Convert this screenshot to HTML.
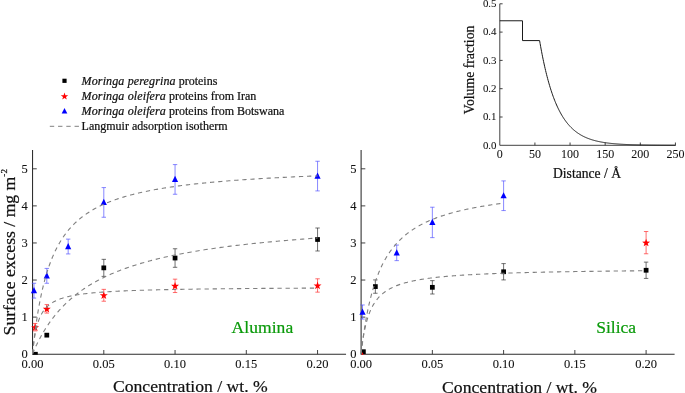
<!DOCTYPE html>
<html><head><meta charset="utf-8"><title>Surface excess</title>
<style>
html,body{margin:0;padding:0;background:#fff;}
body{width:685px;height:393px;overflow:hidden;}
svg{display:block;will-change:transform;}
text{font-family:"Liberation Serif","DejaVu Serif",serif;fill:#111;stroke:#111;stroke-width:0.22px;}
.tk{font-size:12.5px;stroke-width:0.08px;}
.ax{font-size:17.65px;}
.gr{font-size:17.5px;fill:#0a9a0a;stroke:#0a9a0a;}
.lg{font-size:12px;}
.it{font-size:10.9px;stroke-width:0.05px;}
.ix{font-size:12px;stroke-width:0.05px;}
.il{font-size:13.6px;}
</style></head><body>
<svg width="685" height="393" viewBox="0 0 685 393">
<rect width="685" height="393" fill="#fff"/>
<defs><clipPath id="cl"><rect x="32.55" y="140" width="320" height="214.65"/></clipPath><clipPath id="cr"><rect x="361.10" y="140" width="320" height="214.65"/></clipPath></defs>
<path d="M32.55 150V354.20H346.05" fill="none" stroke="#2c2c2c" stroke-width="1.05"/>
<path d="M32.55 317.12h4.2M32.55 280.04h4.2M32.55 242.96h4.2M32.55 205.88h4.2M32.55 168.80h4.2M103.80 354.20v-4.2M175.05 354.20v-4.2M246.30 354.20v-4.2M317.55 354.20v-4.2" fill="none" stroke="#2c2c2c" stroke-width="0.9"/>
<text x="27.85" y="358.10" text-anchor="end" class="tk">0</text>
<text x="27.85" y="321.02" text-anchor="end" class="tk">1</text>
<text x="27.85" y="283.94" text-anchor="end" class="tk">2</text>
<text x="27.85" y="246.86" text-anchor="end" class="tk">3</text>
<text x="27.85" y="209.78" text-anchor="end" class="tk">4</text>
<text x="27.85" y="172.70" text-anchor="end" class="tk">5</text>
<text x="32.55" y="367.6" text-anchor="middle" class="tk">0.00</text>
<text x="103.80" y="367.6" text-anchor="middle" class="tk">0.05</text>
<text x="175.05" y="367.6" text-anchor="middle" class="tk">0.10</text>
<text x="246.30" y="367.6" text-anchor="middle" class="tk">0.15</text>
<text x="317.55" y="367.6" text-anchor="middle" class="tk">0.20</text>
<path d="M103.80 259.33V276.39M101.60 259.33h4.4M101.60 276.39h4.4" fill="none" stroke="#333" stroke-width="0.7" opacity="1.0"/>
<path d="M175.05 248.76V267.30M172.85 248.76h4.4M172.85 267.30h4.4" fill="none" stroke="#333" stroke-width="0.7" opacity="1.0"/>
<path d="M317.55 228.00V250.99M315.35 228.00h4.4M315.35 250.99h4.4" fill="none" stroke="#333" stroke-width="0.7" opacity="1.0"/>
<path d="M35.11 323.48V330.90M32.91 323.48h4.4M32.91 330.90h4.4" fill="none" stroke="#ff3030" stroke-width="0.7" opacity="1.0"/>
<path d="M46.80 304.57V313.10M44.60 304.57h4.4M44.60 313.10h4.4" fill="none" stroke="#ff3030" stroke-width="0.7" opacity="1.0"/>
<path d="M103.80 289.37V301.23M101.60 289.37h4.4M101.60 301.23h4.4" fill="none" stroke="#ff3030" stroke-width="0.7" opacity="1.0"/>
<path d="M175.05 279.17V292.52M172.85 279.17h4.4M172.85 292.52h4.4" fill="none" stroke="#ff3030" stroke-width="0.7" opacity="1.0"/>
<path d="M317.55 278.80V292.15M315.35 278.80h4.4M315.35 292.15h4.4" fill="none" stroke="#ff3030" stroke-width="0.7" opacity="1.0"/>
<path d="M33.97 283.25V298.08M31.77 283.25h4.4M31.77 298.08h4.4" fill="none" stroke="#5555ff" stroke-width="0.7" opacity="1.0"/>
<path d="M46.80 268.42V283.25M44.60 268.42h4.4M44.60 283.25h4.4" fill="none" stroke="#5555ff" stroke-width="0.7" opacity="1.0"/>
<path d="M68.17 239.12V253.95M65.97 239.12h4.4M65.97 253.95h4.4" fill="none" stroke="#5555ff" stroke-width="0.7" opacity="1.0"/>
<path d="M103.80 187.58V217.25M101.60 187.58h4.4M101.60 217.25h4.4" fill="none" stroke="#5555ff" stroke-width="0.7" opacity="1.0"/>
<path d="M175.05 164.59V194.26M172.85 164.59h4.4M172.85 194.26h4.4" fill="none" stroke="#5555ff" stroke-width="0.7" opacity="1.0"/>
<path d="M317.55 161.25V190.92M315.35 161.25h4.4M315.35 190.92h4.4" fill="none" stroke="#5555ff" stroke-width="0.7" opacity="1.0"/>
<rect x="33.02" y="351.88" width="4.75" height="4.75" fill="#000" clip-path="url(#cl)"/>
<rect x="44.42" y="332.78" width="4.75" height="4.75" fill="#000" clip-path="url(#cl)"/>
<rect x="101.42" y="265.48" width="4.75" height="4.75" fill="#000" clip-path="url(#cl)"/>
<rect x="172.68" y="255.66" width="4.75" height="4.75" fill="#000" clip-path="url(#cl)"/>
<rect x="315.18" y="237.12" width="4.75" height="4.75" fill="#000" clip-path="url(#cl)"/>
<path d="M35.11 323.29 L36.10 326.13 L39.11 326.19 L36.71 328.01 L37.58 330.89 L35.11 329.17 L32.65 330.89 L33.52 328.01 L31.12 326.19 L34.13 326.13Z" fill="#ff0000"/>
<path d="M46.80 304.93 L47.79 307.77 L50.79 307.84 L48.40 309.65 L49.27 312.53 L46.80 310.81 L44.33 312.53 L45.20 309.65 L42.81 307.84 L45.81 307.77Z" fill="#ff0000"/>
<path d="M103.80 291.40 L104.79 294.24 L107.79 294.30 L105.40 296.12 L106.27 299.00 L103.80 297.28 L101.33 299.00 L102.20 296.12 L99.81 294.30 L102.81 294.24Z" fill="#ff0000"/>
<path d="M175.05 281.94 L176.04 284.78 L179.04 284.85 L176.65 286.66 L177.52 289.54 L175.05 287.82 L172.58 289.54 L173.45 286.66 L171.06 284.85 L174.06 284.78Z" fill="#ff0000"/>
<path d="M317.55 281.57 L318.54 284.41 L321.54 284.47 L319.15 286.29 L320.02 289.17 L317.55 287.45 L315.08 289.17 L315.95 286.29 L313.56 284.47 L316.56 284.41Z" fill="#ff0000"/>
<path d="M33.97 287.07L37.07 293.27H30.87Z" fill="#0000ff"/>
<path d="M46.80 272.24L49.90 278.44H43.70Z" fill="#0000ff"/>
<path d="M68.17 242.94L71.27 249.14H65.08Z" fill="#0000ff"/>
<path d="M103.80 198.82L106.90 205.02H100.70Z" fill="#0000ff"/>
<path d="M175.05 175.83L178.15 182.03H171.95Z" fill="#0000ff"/>
<path d="M317.55 172.49L320.65 178.69H314.45Z" fill="#0000ff"/>
<path d="M32.55 353.70 L32.55 353.67 L32.56 353.58 L32.58 353.42 L32.60 353.20 L32.63 352.92 L32.66 352.58 L32.71 352.18 L32.75 351.72 L32.81 351.20 L32.87 350.63 L32.93 350.00 L33.01 349.31 L33.09 348.57 L33.17 347.77 L33.26 346.93 L33.36 346.03 L33.47 345.09 L33.58 344.10 L33.69 343.06 L33.82 341.98 L33.95 340.86 L34.08 339.70 L34.23 338.51 L34.37 337.27 L34.53 336.01 L34.69 334.71 L34.86 333.38 L35.03 332.02 L35.21 330.63 L35.40 329.22 L35.59 327.79 L35.79 326.34 L36.00 324.87 L36.21 323.37 L36.43 321.87 L36.65 320.35 L36.89 318.81 L37.12 317.27 L37.37 315.72 L37.62 314.15 L37.87 312.59 L38.14 311.01 L38.41 309.43 L38.68 307.85 L38.96 306.27 L39.25 304.69 L39.55 303.11 L39.85 301.53 L40.15 299.96 L40.47 298.39 L40.79 296.82 L41.11 295.27 L41.45 293.71 L41.78 292.17 L42.13 290.63 L42.48 289.11 L42.84 287.59 L43.20 286.08 L43.57 284.59 L43.95 283.10 L44.33 281.63 L44.72 280.17 L45.12 278.72 L45.52 277.29 L45.93 275.87 L46.34 274.46 L46.77 273.07 L47.19 271.70 L47.63 270.33 L48.07 268.98 L48.51 267.65 L48.97 266.33 L49.43 265.03 L49.89 263.75 L50.36 262.47 L50.84 261.22 L51.33 259.98 L51.82 258.75 L52.31 257.54 L52.82 256.35 L53.33 255.17 L53.84 254.01 L54.37 252.86 L54.89 251.73 L55.43 250.61 L55.97 249.51 L56.52 248.43 L57.07 247.36 L57.63 246.30 L58.20 245.26 L58.77 244.24 L59.35 243.22 L59.94 242.23 L60.53 241.24 L61.13 240.28 L61.73 239.32 L62.35 238.38 L62.96 237.45 L63.59 236.54 L64.22 235.64 L64.85 234.76 L65.50 233.88 L66.15 233.02 L66.80 232.18 L67.46 231.34 L68.13 230.52 L68.81 229.71 L69.49 228.91 L70.17 228.12 L70.87 227.35 L71.57 226.59 L72.27 225.84 L72.99 225.10 L73.70 224.37 L74.43 223.65 L75.16 222.94 L75.90 222.25 L76.64 221.56 L77.39 220.88 L78.15 220.22 L78.91 219.56 L79.68 218.92 L80.46 218.28 L81.24 217.66 L82.03 217.04 L82.82 216.43 L83.63 215.83 L84.43 215.24 L85.25 214.66 L86.07 214.09 L86.89 213.52 L87.73 212.97 L88.57 212.42 L89.41 211.88 L90.26 211.35 L91.12 210.82 L91.99 210.31 L92.86 209.80 L93.73 209.30 L94.62 208.81 L95.51 208.32 L96.40 207.84 L97.31 207.37 L98.21 206.90 L99.13 206.44 L100.05 205.99 L100.98 205.54 L101.91 205.10 L102.85 204.67 L103.80 204.24 L104.75 203.82 L105.71 203.41 L106.68 203.00 L107.65 202.60 L108.63 202.20 L109.61 201.81 L110.61 201.42 L111.60 201.04 L112.61 200.66 L113.62 200.29 L114.63 199.93 L115.66 199.57 L116.69 199.21 L117.72 198.86 L118.76 198.51 L119.81 198.17 L120.87 197.84 L121.93 197.50 L122.99 197.18 L124.07 196.85 L125.15 196.54 L126.23 196.22 L127.33 195.91 L128.42 195.60 L129.53 195.30 L130.64 195.00 L131.76 194.71 L132.88 194.42 L134.01 194.13 L135.15 193.85 L136.29 193.57 L137.44 193.30 L138.60 193.03 L139.76 192.76 L140.93 192.49 L142.10 192.23 L143.29 191.97 L144.47 191.72 L145.67 191.47 L146.87 191.22 L148.07 190.98 L149.29 190.73 L150.51 190.49 L151.73 190.26 L152.96 190.03 L154.20 189.80 L155.45 189.57 L156.70 189.34 L157.95 189.12 L159.22 188.90 L160.49 188.69 L161.76 188.47 L163.05 188.26 L164.33 188.06 L165.63 187.85 L166.93 187.65 L168.24 187.45 L169.55 187.25 L170.87 187.05 L172.20 186.86 L173.53 186.67 L174.87 186.48 L176.22 186.29 L177.57 186.10 L178.93 185.92 L180.29 185.74 L181.67 185.56 L183.04 185.39 L184.43 185.21 L185.82 185.04 L187.21 184.87 L188.62 184.70 L190.03 184.54 L191.44 184.37 L192.86 184.21 L194.29 184.05 L195.73 183.89 L197.17 183.73 L198.61 183.58 L200.07 183.42 L201.53 183.27 L202.99 183.12 L204.47 182.97 L205.94 182.83 L207.43 182.68 L208.92 182.54 L210.42 182.40 L211.92 182.26 L213.43 182.12 L214.95 181.98 L216.47 181.84 L218.00 181.71 L219.54 181.58 L221.08 181.44 L222.63 181.31 L224.18 181.19 L225.75 181.06 L227.31 180.93 L228.89 180.81 L230.47 180.68 L232.05 180.56 L233.65 180.44 L235.25 180.32 L236.85 180.20 L238.46 180.09 L240.08 179.97 L241.71 179.86 L243.34 179.74 L244.97 179.63 L246.62 179.52 L248.27 179.41 L249.92 179.30 L251.59 179.19 L253.25 179.09 L254.93 178.98 L256.61 178.88 L258.30 178.77 L259.99 178.67 L261.69 178.57 L263.40 178.47 L265.11 178.37 L266.83 178.27 L268.56 178.17 L270.29 178.08 L272.03 177.98 L273.77 177.89 L275.53 177.79 L277.28 177.70 L279.05 177.61 L280.82 177.52 L282.59 177.43 L284.38 177.34 L286.17 177.25 L287.96 177.16 L289.76 177.07 L291.57 176.99 L293.39 176.90 L295.21 176.82 L297.03 176.74 L298.87 176.65 L300.71 176.57 L302.55 176.49 L304.41 176.41 L306.26 176.33 L308.13 176.25 L310.00 176.17 L311.88 176.09 L313.76 176.02 L315.65 175.94 L317.55 175.87" fill="none" stroke="#808080" stroke-width="1.1" stroke-dasharray="4.3 3.8"/>
<path d="M32.55 353.70 L32.55 353.69 L32.56 353.67 L32.58 353.63 L32.60 353.58 L32.63 353.51 L32.66 353.43 L32.71 353.34 L32.75 353.22 L32.81 353.10 L32.87 352.96 L32.93 352.80 L33.01 352.63 L33.09 352.45 L33.17 352.25 L33.26 352.04 L33.36 351.82 L33.47 351.58 L33.58 351.33 L33.69 351.06 L33.82 350.78 L33.95 350.49 L34.08 350.18 L34.23 349.86 L34.37 349.53 L34.53 349.19 L34.69 348.84 L34.86 348.47 L35.03 348.09 L35.21 347.70 L35.40 347.30 L35.59 346.88 L35.79 346.46 L36.00 346.03 L36.21 345.58 L36.43 345.13 L36.65 344.66 L36.89 344.19 L37.12 343.70 L37.37 343.21 L37.62 342.71 L37.87 342.20 L38.14 341.68 L38.41 341.15 L38.68 340.62 L38.96 340.07 L39.25 339.52 L39.55 338.97 L39.85 338.40 L40.15 337.83 L40.47 337.25 L40.79 336.67 L41.11 336.08 L41.45 335.49 L41.78 334.89 L42.13 334.28 L42.48 333.67 L42.84 333.05 L43.20 332.43 L43.57 331.81 L43.95 331.18 L44.33 330.55 L44.72 329.92 L45.12 329.28 L45.52 328.64 L45.93 327.99 L46.34 327.35 L46.77 326.70 L47.19 326.05 L47.63 325.39 L48.07 324.74 L48.51 324.08 L48.97 323.42 L49.43 322.76 L49.89 322.10 L50.36 321.44 L50.84 320.78 L51.33 320.12 L51.82 319.45 L52.31 318.79 L52.82 318.13 L53.33 317.46 L53.84 316.80 L54.37 316.14 L54.89 315.48 L55.43 314.82 L55.97 314.16 L56.52 313.50 L57.07 312.84 L57.63 312.18 L58.20 311.53 L58.77 310.87 L59.35 310.22 L59.94 309.57 L60.53 308.92 L61.13 308.28 L61.73 307.63 L62.35 306.99 L62.96 306.35 L63.59 305.71 L64.22 305.08 L64.85 304.44 L65.50 303.81 L66.15 303.19 L66.80 302.56 L67.46 301.94 L68.13 301.32 L68.81 300.70 L69.49 300.09 L70.17 299.48 L70.87 298.87 L71.57 298.27 L72.27 297.67 L72.99 297.07 L73.70 296.47 L74.43 295.88 L75.16 295.29 L75.90 294.71 L76.64 294.13 L77.39 293.55 L78.15 292.98 L78.91 292.41 L79.68 291.84 L80.46 291.27 L81.24 290.71 L82.03 290.16 L82.82 289.61 L83.63 289.06 L84.43 288.51 L85.25 287.97 L86.07 287.43 L86.89 286.90 L87.73 286.37 L88.57 285.84 L89.41 285.32 L90.26 284.80 L91.12 284.28 L91.99 283.77 L92.86 283.26 L93.73 282.76 L94.62 282.26 L95.51 281.76 L96.40 281.26 L97.31 280.77 L98.21 280.29 L99.13 279.81 L100.05 279.33 L100.98 278.85 L101.91 278.38 L102.85 277.91 L103.80 277.45 L104.75 276.99 L105.71 276.53 L106.68 276.08 L107.65 275.63 L108.63 275.18 L109.61 274.74 L110.61 274.30 L111.60 273.87 L112.61 273.44 L113.62 273.01 L114.63 272.58 L115.66 272.16 L116.69 271.74 L117.72 271.33 L118.76 270.92 L119.81 270.51 L120.87 270.11 L121.93 269.71 L122.99 269.31 L124.07 268.92 L125.15 268.52 L126.23 268.14 L127.33 267.75 L128.42 267.37 L129.53 266.99 L130.64 266.62 L131.76 266.25 L132.88 265.88 L134.01 265.51 L135.15 265.15 L136.29 264.79 L137.44 264.44 L138.60 264.08 L139.76 263.73 L140.93 263.39 L142.10 263.04 L143.29 262.70 L144.47 262.36 L145.67 262.03 L146.87 261.69 L148.07 261.37 L149.29 261.04 L150.51 260.71 L151.73 260.39 L152.96 260.07 L154.20 259.76 L155.45 259.45 L156.70 259.14 L157.95 258.83 L159.22 258.52 L160.49 258.22 L161.76 257.92 L163.05 257.62 L164.33 257.33 L165.63 257.04 L166.93 256.75 L168.24 256.46 L169.55 256.17 L170.87 255.89 L172.20 255.61 L173.53 255.33 L174.87 255.06 L176.22 254.79 L177.57 254.52 L178.93 254.25 L180.29 253.98 L181.67 253.72 L183.04 253.46 L184.43 253.20 L185.82 252.94 L187.21 252.69 L188.62 252.43 L190.03 252.18 L191.44 251.94 L192.86 251.69 L194.29 251.45 L195.73 251.20 L197.17 250.96 L198.61 250.73 L200.07 250.49 L201.53 250.26 L202.99 250.02 L204.47 249.79 L205.94 249.57 L207.43 249.34 L208.92 249.12 L210.42 248.89 L211.92 248.67 L213.43 248.46 L214.95 248.24 L216.47 248.02 L218.00 247.81 L219.54 247.60 L221.08 247.39 L222.63 247.18 L224.18 246.98 L225.75 246.77 L227.31 246.57 L228.89 246.37 L230.47 246.17 L232.05 245.97 L233.65 245.77 L235.25 245.58 L236.85 245.39 L238.46 245.20 L240.08 245.01 L241.71 244.82 L243.34 244.63 L244.97 244.45 L246.62 244.26 L248.27 244.08 L249.92 243.90 L251.59 243.72 L253.25 243.54 L254.93 243.37 L256.61 243.19 L258.30 243.02 L259.99 242.85 L261.69 242.68 L263.40 242.51 L265.11 242.34 L266.83 242.17 L268.56 242.01 L270.29 241.84 L272.03 241.68 L273.77 241.52 L275.53 241.36 L277.28 241.20 L279.05 241.04 L280.82 240.89 L282.59 240.73 L284.38 240.58 L286.17 240.43 L287.96 240.28 L289.76 240.13 L291.57 239.98 L293.39 239.83 L295.21 239.68 L297.03 239.54 L298.87 239.39 L300.71 239.25 L302.55 239.11 L304.41 238.97 L306.26 238.83 L308.13 238.69 L310.00 238.55 L311.88 238.41 L313.76 238.28 L315.65 238.14 L317.55 238.01" fill="none" stroke="#808080" stroke-width="1.1" stroke-dasharray="4.3 3.8"/>
<path d="M32.55 353.70 L32.55 353.67 L32.56 353.56 L32.58 353.39 L32.60 353.16 L32.63 352.85 L32.66 352.49 L32.71 352.06 L32.75 351.58 L32.81 351.03 L32.87 350.44 L32.93 349.80 L33.01 349.10 L33.09 348.37 L33.17 347.60 L33.26 346.79 L33.36 345.94 L33.47 345.07 L33.58 344.18 L33.69 343.26 L33.82 342.32 L33.95 341.37 L34.08 340.40 L34.23 339.43 L34.37 338.45 L34.53 337.47 L34.69 336.48 L34.86 335.50 L35.03 334.52 L35.21 333.55 L35.40 332.58 L35.59 331.62 L35.79 330.67 L36.00 329.73 L36.21 328.80 L36.43 327.89 L36.65 326.99 L36.89 326.10 L37.12 325.23 L37.37 324.38 L37.62 323.54 L37.87 322.72 L38.14 321.91 L38.41 321.13 L38.68 320.36 L38.96 319.60 L39.25 318.87 L39.55 318.15 L39.85 317.45 L40.15 316.76 L40.47 316.09 L40.79 315.44 L41.11 314.80 L41.45 314.18 L41.78 313.58 L42.13 312.99 L42.48 312.42 L42.84 311.86 L43.20 311.31 L43.57 310.78 L43.95 310.27 L44.33 309.76 L44.72 309.27 L45.12 308.80 L45.52 308.33 L45.93 307.88 L46.34 307.44 L46.77 307.01 L47.19 306.59 L47.63 306.19 L48.07 305.79 L48.51 305.40 L48.97 305.03 L49.43 304.66 L49.89 304.31 L50.36 303.96 L50.84 303.62 L51.33 303.29 L51.82 302.97 L52.31 302.66 L52.82 302.36 L53.33 302.06 L53.84 301.77 L54.37 301.49 L54.89 301.21 L55.43 300.95 L55.97 300.68 L56.52 300.43 L57.07 300.18 L57.63 299.94 L58.20 299.70 L58.77 299.47 L59.35 299.25 L59.94 299.03 L60.53 298.81 L61.13 298.60 L61.73 298.40 L62.35 298.20 L62.96 298.01 L63.59 297.82 L64.22 297.63 L64.85 297.45 L65.50 297.27 L66.15 297.10 L66.80 296.93 L67.46 296.76 L68.13 296.60 L68.81 296.44 L69.49 296.29 L70.17 296.14 L70.87 295.99 L71.57 295.85 L72.27 295.70 L72.99 295.57 L73.70 295.43 L74.43 295.30 L75.16 295.17 L75.90 295.04 L76.64 294.92 L77.39 294.80 L78.15 294.68 L78.91 294.56 L79.68 294.45 L80.46 294.34 L81.24 294.23 L82.03 294.12 L82.82 294.01 L83.63 293.91 L84.43 293.81 L85.25 293.71 L86.07 293.62 L86.89 293.52 L87.73 293.43 L88.57 293.34 L89.41 293.25 L90.26 293.16 L91.12 293.07 L91.99 292.99 L92.86 292.91 L93.73 292.82 L94.62 292.74 L95.51 292.67 L96.40 292.59 L97.31 292.51 L98.21 292.44 L99.13 292.37 L100.05 292.30 L100.98 292.23 L101.91 292.16 L102.85 292.09 L103.80 292.02 L104.75 291.96 L105.71 291.89 L106.68 291.83 L107.65 291.77 L108.63 291.71 L109.61 291.65 L110.61 291.59 L111.60 291.53 L112.61 291.48 L113.62 291.42 L114.63 291.36 L115.66 291.31 L116.69 291.26 L117.72 291.21 L118.76 291.15 L119.81 291.10 L120.87 291.05 L121.93 291.01 L122.99 290.96 L124.07 290.91 L125.15 290.86 L126.23 290.82 L127.33 290.77 L128.42 290.73 L129.53 290.69 L130.64 290.64 L131.76 290.60 L132.88 290.56 L134.01 290.52 L135.15 290.48 L136.29 290.44 L137.44 290.40 L138.60 290.36 L139.76 290.32 L140.93 290.28 L142.10 290.25 L143.29 290.21 L144.47 290.18 L145.67 290.14 L146.87 290.11 L148.07 290.07 L149.29 290.04 L150.51 290.00 L151.73 289.97 L152.96 289.94 L154.20 289.91 L155.45 289.88 L156.70 289.85 L157.95 289.82 L159.22 289.79 L160.49 289.76 L161.76 289.73 L163.05 289.70 L164.33 289.67 L165.63 289.64 L166.93 289.61 L168.24 289.59 L169.55 289.56 L170.87 289.53 L172.20 289.51 L173.53 289.48 L174.87 289.46 L176.22 289.43 L177.57 289.41 L178.93 289.38 L180.29 289.36 L181.67 289.33 L183.04 289.31 L184.43 289.29 L185.82 289.26 L187.21 289.24 L188.62 289.22 L190.03 289.20 L191.44 289.18 L192.86 289.15 L194.29 289.13 L195.73 289.11 L197.17 289.09 L198.61 289.07 L200.07 289.05 L201.53 289.03 L202.99 289.01 L204.47 288.99 L205.94 288.97 L207.43 288.95 L208.92 288.93 L210.42 288.92 L211.92 288.90 L213.43 288.88 L214.95 288.86 L216.47 288.84 L218.00 288.83 L219.54 288.81 L221.08 288.79 L222.63 288.78 L224.18 288.76 L225.75 288.74 L227.31 288.73 L228.89 288.71 L230.47 288.69 L232.05 288.68 L233.65 288.66 L235.25 288.65 L236.85 288.63 L238.46 288.62 L240.08 288.60 L241.71 288.59 L243.34 288.57 L244.97 288.56 L246.62 288.55 L248.27 288.53 L249.92 288.52 L251.59 288.50 L253.25 288.49 L254.93 288.48 L256.61 288.46 L258.30 288.45 L259.99 288.44 L261.69 288.42 L263.40 288.41 L265.11 288.40 L266.83 288.39 L268.56 288.37 L270.29 288.36 L272.03 288.35 L273.77 288.34 L275.53 288.33 L277.28 288.31 L279.05 288.30 L280.82 288.29 L282.59 288.28 L284.38 288.27 L286.17 288.26 L287.96 288.25 L289.76 288.24 L291.57 288.23 L293.39 288.21 L295.21 288.20 L297.03 288.19 L298.87 288.18 L300.71 288.17 L302.55 288.16 L304.41 288.15 L306.26 288.14 L308.13 288.13 L310.00 288.12 L311.88 288.11 L313.76 288.10 L315.65 288.10 L317.55 288.09" fill="none" stroke="#808080" stroke-width="1.1" stroke-dasharray="4.3 3.8"/>
<path d="M361.10 150V354.20H674.60" fill="none" stroke="#2c2c2c" stroke-width="1.05"/>
<path d="M361.10 317.12h4.2M361.10 280.04h4.2M361.10 242.96h4.2M361.10 205.88h4.2M361.10 168.80h4.2M432.35 354.20v-4.2M503.60 354.20v-4.2M574.85 354.20v-4.2M646.10 354.20v-4.2" fill="none" stroke="#2c2c2c" stroke-width="0.9"/>
<text x="356.40" y="358.10" text-anchor="end" class="tk">0</text>
<text x="356.40" y="321.02" text-anchor="end" class="tk">1</text>
<text x="356.40" y="283.94" text-anchor="end" class="tk">2</text>
<text x="356.40" y="246.86" text-anchor="end" class="tk">3</text>
<text x="356.40" y="209.78" text-anchor="end" class="tk">4</text>
<text x="356.40" y="172.70" text-anchor="end" class="tk">5</text>
<text x="361.10" y="367.6" text-anchor="middle" class="tk">0.00</text>
<text x="432.35" y="367.6" text-anchor="middle" class="tk">0.05</text>
<text x="503.60" y="367.6" text-anchor="middle" class="tk">0.10</text>
<text x="574.85" y="367.6" text-anchor="middle" class="tk">0.15</text>
<text x="646.10" y="367.6" text-anchor="middle" class="tk">0.20</text>
<path d="M375.35 279.91V293.26M373.15 279.91h4.4M373.15 293.26h4.4" fill="none" stroke="#333" stroke-width="0.7" opacity="1.0"/>
<path d="M432.35 280.65V294.00M430.15 280.65h4.4M430.15 294.00h4.4" fill="none" stroke="#333" stroke-width="0.7" opacity="1.0"/>
<path d="M503.60 263.60V279.91M501.40 263.60h4.4M501.40 279.91h4.4" fill="none" stroke="#333" stroke-width="0.7" opacity="1.0"/>
<path d="M646.10 262.11V278.43M643.90 262.11h4.4M643.90 278.43h4.4" fill="none" stroke="#333" stroke-width="0.7" opacity="1.0"/>
<path d="M646.10 231.52V253.77M643.90 231.52h4.4M643.90 253.77h4.4" fill="none" stroke="#ff3030" stroke-width="0.7" opacity="1.0"/>
<path d="M362.53 304.98V319.07M360.33 304.98h4.4M360.33 319.07h4.4" fill="none" stroke="#5555ff" stroke-width="0.7" opacity="1.0"/>
<path d="M396.73 245.06V260.63M394.53 245.06h4.4M394.53 260.63h4.4" fill="none" stroke="#5555ff" stroke-width="0.7" opacity="1.0"/>
<path d="M432.35 207.23V237.64M430.15 207.23h4.4M430.15 237.64h4.4" fill="none" stroke="#5555ff" stroke-width="0.7" opacity="1.0"/>
<path d="M503.60 180.91V210.57M501.40 180.91h4.4M501.40 210.57h4.4" fill="none" stroke="#5555ff" stroke-width="0.7" opacity="1.0"/>
<rect x="361.00" y="349.32" width="4.75" height="4.75" fill="#000" clip-path="url(#cr)"/>
<rect x="372.98" y="284.21" width="4.75" height="4.75" fill="#000" clip-path="url(#cr)"/>
<rect x="429.98" y="284.95" width="4.75" height="4.75" fill="#000" clip-path="url(#cr)"/>
<rect x="501.23" y="269.38" width="4.75" height="4.75" fill="#000" clip-path="url(#cr)"/>
<rect x="643.73" y="267.89" width="4.75" height="4.75" fill="#000" clip-path="url(#cr)"/>
<path d="M362.53 352.02 L363.51 354.87 L366.52 354.93 L364.12 356.74 L364.99 359.62 L362.53 357.90 L360.06 359.62 L360.93 356.74 L358.53 354.93 L361.54 354.87Z" fill="#ff0000" clip-path="url(#cr)"/>
<path d="M646.10 238.75 L647.09 241.59 L650.09 241.65 L647.70 243.46 L648.57 246.34 L646.10 244.63 L643.63 246.34 L644.50 243.46 L642.11 241.65 L645.11 241.59Z" fill="#ff0000"/>
<path d="M362.53 308.43L365.63 314.63H359.43Z" fill="#0000ff"/>
<path d="M396.73 249.25L399.83 255.45H393.62Z" fill="#0000ff"/>
<path d="M432.35 218.84L435.45 225.04H429.25Z" fill="#0000ff"/>
<path d="M503.60 192.14L506.70 198.34H500.50Z" fill="#0000ff"/>
<path d="M361.10 353.70 L361.10 353.69 L361.11 353.64 L361.11 353.58 L361.13 353.48 L361.14 353.36 L361.16 353.20 L361.18 353.03 L361.20 352.82 L361.23 352.59 L361.26 352.33 L361.29 352.05 L361.33 351.74 L361.37 351.40 L361.41 351.04 L361.46 350.65 L361.51 350.24 L361.56 349.80 L361.61 349.34 L361.67 348.86 L361.73 348.35 L361.80 347.82 L361.87 347.27 L361.94 346.70 L362.01 346.10 L362.09 345.49 L362.17 344.85 L362.25 344.20 L362.34 343.52 L362.43 342.83 L362.53 342.12 L362.62 341.39 L362.72 340.65 L362.82 339.88 L362.93 339.11 L363.04 338.31 L363.15 337.51 L363.27 336.68 L363.39 335.85 L363.51 335.00 L363.63 334.14 L363.76 333.27 L363.89 332.39 L364.03 331.49 L364.17 330.59 L364.31 329.67 L364.45 328.75 L364.60 327.82 L364.75 326.88 L364.90 325.94 L365.06 324.98 L365.22 324.02 L365.38 323.06 L365.55 322.09 L365.72 321.11 L365.89 320.13 L366.07 319.15 L366.24 318.16 L366.43 317.17 L366.61 316.18 L366.80 315.19 L366.99 314.19 L367.19 313.20 L367.38 312.20 L367.59 311.20 L367.79 310.20 L368.00 309.20 L368.21 308.20 L368.42 307.21 L368.64 306.21 L368.86 305.22 L369.08 304.23 L369.31 303.24 L369.54 302.25 L369.77 301.26 L370.01 300.28 L370.25 299.30 L370.49 298.33 L370.73 297.36 L370.98 296.39 L371.23 295.42 L371.49 294.47 L371.75 293.51 L372.01 292.56 L372.27 291.62 L372.54 290.68 L372.81 289.74 L373.08 288.81 L373.36 287.89 L373.64 286.97 L373.93 286.06 L374.21 285.15 L374.50 284.25 L374.79 283.36 L375.09 282.47 L375.39 281.58 L375.69 280.71 L376.00 279.84 L376.31 278.98 L376.62 278.12 L376.93 277.27 L377.25 276.43 L377.57 275.59 L377.90 274.76 L378.23 273.94 L378.56 273.12 L378.89 272.31 L379.23 271.51 L379.57 270.71 L379.91 269.92 L380.26 269.14 L380.61 268.37 L380.96 267.60 L381.32 266.84 L381.68 266.08 L382.04 265.34 L382.41 264.59 L382.77 263.86 L383.15 263.13 L383.52 262.41 L383.90 261.70 L384.28 260.99 L384.67 260.29 L385.05 259.60 L385.45 258.91 L385.84 258.24 L386.24 257.56 L386.64 256.90 L387.04 256.24 L387.45 255.58 L387.86 254.94 L388.27 254.30 L388.69 253.66 L389.11 253.04 L389.53 252.41 L389.96 251.80 L390.39 251.19 L390.82 250.59 L391.25 249.99 L391.69 249.40 L392.13 248.82 L392.58 248.24 L393.03 247.67 L393.48 247.10 L393.93 246.54 L394.39 245.99 L394.85 245.44 L395.31 244.90 L395.78 244.36 L396.25 243.83 L396.73 243.30 L397.20 242.78 L397.68 242.26 L398.16 241.75 L398.65 241.25 L399.14 240.75 L399.63 240.26 L400.13 239.77 L400.63 239.29 L401.13 238.81 L401.63 238.33 L402.14 237.86 L402.65 237.40 L403.17 236.94 L403.69 236.49 L404.21 236.04 L404.73 235.60 L405.26 235.16 L405.79 234.72 L406.32 234.29 L406.86 233.86 L407.40 233.44 L407.94 233.03 L408.49 232.61 L409.04 232.21 L409.59 231.80 L410.15 231.40 L410.70 231.01 L411.27 230.62 L411.83 230.23 L412.40 229.84 L412.97 229.47 L413.55 229.09 L414.12 228.72 L414.71 228.35 L415.29 227.99 L415.88 227.63 L416.47 227.27 L417.06 226.92 L417.66 226.57 L418.26 226.23 L418.86 225.88 L419.47 225.55 L420.08 225.21 L420.69 224.88 L421.31 224.55 L421.93 224.23 L422.55 223.91 L423.17 223.59 L423.80 223.27 L424.43 222.96 L425.07 222.66 L425.71 222.35 L426.35 222.05 L426.99 221.75 L427.64 221.45 L428.29 221.16 L428.94 220.87 L429.60 220.59 L430.26 220.30 L430.93 220.02 L431.59 219.74 L432.26 219.47 L432.93 219.19 L433.61 218.92 L434.29 218.66 L434.97 218.39 L435.66 218.13 L436.35 217.87 L437.04 217.61 L437.73 217.36 L438.43 217.11 L439.13 216.86 L439.84 216.61 L440.55 216.37 L441.26 216.13 L441.97 215.89 L442.69 215.65 L443.41 215.41 L444.13 215.18 L444.86 214.95 L445.59 214.72 L446.32 214.50 L447.06 214.27 L447.80 214.05 L448.54 213.83 L449.29 213.61 L450.03 213.40 L450.79 213.18 L451.54 212.97 L452.30 212.76 L453.06 212.56 L453.83 212.35 L454.59 212.15 L455.37 211.95 L456.14 211.75 L456.92 211.55 L457.70 211.35 L458.48 211.16 L459.27 210.97 L460.06 210.78 L460.85 210.59 L461.65 210.40 L462.45 210.22 L463.25 210.03 L464.06 209.85 L464.87 209.67 L465.68 209.49 L466.49 209.32 L467.31 209.14 L468.13 208.97 L468.96 208.80 L469.79 208.63 L470.62 208.46 L471.45 208.29 L472.29 208.12 L473.13 207.96 L473.97 207.80 L474.82 207.64 L475.67 207.48 L476.53 207.32 L477.38 207.16 L478.24 207.00 L479.10 206.85 L479.97 206.70 L480.84 206.55 L481.71 206.40 L482.59 206.25 L483.47 206.10 L484.35 205.95 L485.23 205.81 L486.12 205.66 L487.01 205.52 L487.91 205.38 L488.81 205.24 L489.71 205.10 L490.61 204.96 L491.52 204.83 L492.43 204.69 L493.34 204.56 L494.26 204.42 L495.18 204.29 L496.10 204.16 L497.03 204.03 L497.96 203.90 L498.89 203.78 L499.83 203.65 L500.76 203.52 L501.71 203.40 L502.65 203.28 L503.60 203.16" fill="none" stroke="#808080" stroke-width="1.1" stroke-dasharray="4.3 3.8"/>
<path d="M361.10 353.70 L361.10 353.67 L361.11 353.58 L361.13 353.44 L361.15 353.23 L361.18 352.97 L361.21 352.65 L361.26 352.28 L361.30 351.85 L361.36 351.38 L361.42 350.85 L361.48 350.27 L361.56 349.65 L361.64 348.99 L361.72 348.28 L361.81 347.54 L361.91 346.76 L362.02 345.95 L362.13 345.10 L362.24 344.23 L362.37 343.33 L362.50 342.40 L362.63 341.46 L362.78 340.50 L362.92 339.52 L363.08 338.53 L363.24 337.52 L363.41 336.51 L363.58 335.49 L363.76 334.46 L363.95 333.43 L364.14 332.40 L364.34 331.37 L364.55 330.34 L364.76 329.31 L364.98 328.28 L365.20 327.26 L365.44 326.25 L365.67 325.25 L365.92 324.25 L366.17 323.27 L366.42 322.29 L366.69 321.33 L366.96 320.37 L367.23 319.43 L367.51 318.50 L367.80 317.59 L368.10 316.69 L368.40 315.80 L368.70 314.93 L369.02 314.07 L369.34 313.22 L369.66 312.39 L370.00 311.58 L370.33 310.78 L370.68 309.99 L371.03 309.22 L371.39 308.47 L371.75 307.72 L372.12 307.00 L372.50 306.28 L372.88 305.59 L373.27 304.90 L373.67 304.23 L374.07 303.57 L374.48 302.93 L374.89 302.30 L375.32 301.69 L375.74 301.08 L376.18 300.49 L376.62 299.91 L377.06 299.35 L377.52 298.79 L377.98 298.25 L378.44 297.72 L378.91 297.20 L379.39 296.70 L379.88 296.20 L380.37 295.72 L380.86 295.24 L381.37 294.78 L381.88 294.32 L382.39 293.88 L382.92 293.44 L383.44 293.01 L383.98 292.60 L384.52 292.19 L385.07 291.79 L385.62 291.40 L386.18 291.02 L386.75 290.65 L387.32 290.28 L387.90 289.92 L388.49 289.57 L389.08 289.23 L389.68 288.89 L390.28 288.56 L390.90 288.24 L391.51 287.93 L392.14 287.62 L392.77 287.32 L393.40 287.02 L394.05 286.73 L394.70 286.45 L395.35 286.17 L396.01 285.90 L396.68 285.63 L397.36 285.37 L398.04 285.12 L398.72 284.87 L399.42 284.62 L400.12 284.38 L400.82 284.14 L401.54 283.91 L402.25 283.69 L402.98 283.46 L403.71 283.25 L404.45 283.03 L405.19 282.82 L405.94 282.62 L406.70 282.42 L407.46 282.22 L408.23 282.03 L409.01 281.84 L409.79 281.65 L410.58 281.47 L411.37 281.29 L412.18 281.11 L412.98 280.94 L413.80 280.77 L414.62 280.60 L415.44 280.44 L416.28 280.28 L417.12 280.12 L417.96 279.97 L418.81 279.82 L419.67 279.67 L420.54 279.52 L421.41 279.38 L422.28 279.23 L423.17 279.10 L424.06 278.96 L424.95 278.83 L425.86 278.69 L426.76 278.56 L427.68 278.44 L428.60 278.31 L429.53 278.19 L430.46 278.07 L431.40 277.95 L432.35 277.83 L433.30 277.72 L434.26 277.61 L435.23 277.50 L436.20 277.39 L437.18 277.28 L438.16 277.17 L439.16 277.07 L440.15 276.97 L441.16 276.87 L442.17 276.77 L443.18 276.67 L444.21 276.58 L445.24 276.48 L446.27 276.39 L447.31 276.30 L448.36 276.21 L449.42 276.12 L450.48 276.03 L451.54 275.95 L452.62 275.86 L453.70 275.78 L454.78 275.70 L455.88 275.62 L456.97 275.54 L458.08 275.46 L459.19 275.39 L460.31 275.31 L461.43 275.23 L462.56 275.16 L463.70 275.09 L464.84 275.02 L465.99 274.95 L467.15 274.88 L468.31 274.81 L469.48 274.74 L470.65 274.68 L471.84 274.61 L473.02 274.55 L474.22 274.48 L475.42 274.42 L476.62 274.36 L477.84 274.30 L479.06 274.24 L480.28 274.18 L481.51 274.12 L482.75 274.06 L484.00 274.01 L485.25 273.95 L486.50 273.90 L487.77 273.84 L489.04 273.79 L490.31 273.73 L491.60 273.68 L492.88 273.63 L494.18 273.58 L495.48 273.53 L496.79 273.48 L498.10 273.43 L499.42 273.38 L500.75 273.34 L502.08 273.29 L503.42 273.24 L504.77 273.20 L506.12 273.15 L507.48 273.11 L508.84 273.06 L510.22 273.02 L511.59 272.98 L512.98 272.93 L514.37 272.89 L515.76 272.85 L517.17 272.81 L518.58 272.77 L519.99 272.73 L521.41 272.69 L522.84 272.65 L524.28 272.61 L525.72 272.58 L527.16 272.54 L528.62 272.50 L530.08 272.46 L531.54 272.43 L533.02 272.39 L534.49 272.36 L535.98 272.32 L537.47 272.29 L538.97 272.25 L540.47 272.22 L541.98 272.19 L543.50 272.16 L545.02 272.12 L546.55 272.09 L548.09 272.06 L549.63 272.03 L551.18 272.00 L552.73 271.97 L554.30 271.94 L555.86 271.91 L557.44 271.88 L559.02 271.85 L560.60 271.82 L562.20 271.79 L563.80 271.76 L565.40 271.73 L567.01 271.71 L568.63 271.68 L570.26 271.65 L571.89 271.62 L573.52 271.60 L575.17 271.57 L576.82 271.55 L578.47 271.52 L580.14 271.50 L581.80 271.47 L583.48 271.45 L585.16 271.42 L586.85 271.40 L588.54 271.37 L590.24 271.35 L591.95 271.33 L593.66 271.30 L595.38 271.28 L597.11 271.26 L598.84 271.23 L600.58 271.21 L602.32 271.19 L604.08 271.17 L605.83 271.15 L607.60 271.12 L609.37 271.10 L611.14 271.08 L612.93 271.06 L614.72 271.04 L616.51 271.02 L618.31 271.00 L620.12 270.98 L621.94 270.96 L623.76 270.94 L625.58 270.92 L627.42 270.90 L629.26 270.88 L631.10 270.87 L632.96 270.85 L634.81 270.83 L636.68 270.81 L638.55 270.79 L640.43 270.77 L642.31 270.76 L644.20 270.74 L646.10 270.72" fill="none" stroke="#808080" stroke-width="1.1" stroke-dasharray="4.3 3.8"/>
<text x="190.3" y="392.3" text-anchor="middle" class="ax">Concentration / wt. %</text>
<text x="519.5" y="392.5" text-anchor="middle" class="ax">Concentration / wt. %</text>
<text transform="translate(15.3 335.4) rotate(-90)" class="ax">Surface excess / mg m<tspan dy="-8.6" font-size="9.2">-2</tspan></text>
<text x="231.6" y="333.0" class="gr" textLength="61.6">Alumina</text>
<text x="596.2" y="333.0" class="gr">Silica</text>
<rect x="62.40" y="78.70" width="4.2" height="4.2" fill="#000"/>
<path d="M64.50 92.50 L65.42 95.14 L68.21 95.19 L65.98 96.88 L66.79 99.56 L64.50 97.96 L62.21 99.56 L63.02 96.88 L60.79 95.19 L63.58 95.14Z" fill="#ff0000"/>
<path d="M64.50 107.95L67.30 113.55H61.70Z" fill="#0000ff"/>
<path d="M49.8 126.3H79" stroke="#808080" stroke-width="1" stroke-dasharray="4.4 3.85" fill="none"/>
<text x="81.6" y="84.7" class="lg"><tspan font-style="italic" letter-spacing="0.13">Moringa peregrina</tspan> proteins</text>
<text x="81.6" y="100" class="lg"><tspan font-style="italic" letter-spacing="0.13">Moringa oleifera</tspan> proteins from Iran</text>
<text x="81.6" y="115" class="lg"><tspan font-style="italic" letter-spacing="0.13">Moringa oleifera</tspan> proteins from Botswana</text>
<text x="81.6" y="130.2" class="lg">Langmuir adsorption isotherm</text>
<path d="M499.80 3.80V145.30H675.42" fill="none" stroke="#2c2c2c" stroke-width="0.9"/>
<path d="M499.80 117.00h2.8M499.80 88.70h2.8M499.80 60.40h2.8M499.80 32.10h2.8M499.80 3.80h2.8M534.92 145.30v-2.8M570.05 145.30v-2.8M605.17 145.30v-2.8M640.30 145.30v-2.8M675.42 145.30v-2.8" fill="none" stroke="#2c2c2c" stroke-width="0.9"/>
<text x="496.50" y="148.50" text-anchor="end" class="it">0.0</text>
<text x="496.50" y="120.20" text-anchor="end" class="it">0.1</text>
<text x="496.50" y="91.90" text-anchor="end" class="it">0.2</text>
<text x="496.50" y="63.60" text-anchor="end" class="it">0.3</text>
<text x="496.50" y="35.30" text-anchor="end" class="it">0.4</text>
<text x="496.50" y="7.00" text-anchor="end" class="it">0.5</text>
<text x="499.80" y="157.6" text-anchor="middle" class="ix">0</text>
<text x="534.92" y="157.6" text-anchor="middle" class="ix">50</text>
<text x="570.05" y="157.6" text-anchor="middle" class="ix">100</text>
<text x="605.17" y="157.6" text-anchor="middle" class="ix">150</text>
<text x="640.30" y="157.6" text-anchor="middle" class="ix">200</text>
<text x="675.42" y="157.6" text-anchor="middle" class="ix">250</text>
<path d="M499.80 20.78 L522.5 20.78 L522.5 40.59 L539.6 40.59 L540.10 43.49 L540.60 46.31 L541.10 49.05 L541.60 51.72 L542.10 54.31 L542.60 56.83 L543.10 59.28 L543.60 61.66 L544.10 63.98 L544.60 66.23 L545.10 68.42 L545.60 70.55 L546.10 72.62 L546.60 74.64 L547.10 76.59 L547.60 78.50 L548.10 80.35 L548.60 82.15 L549.10 83.90 L549.60 85.60 L550.10 87.25 L550.60 88.86 L551.10 90.42 L551.60 91.94 L552.10 93.42 L552.60 94.86 L553.10 96.25 L553.60 97.61 L554.10 98.93 L554.60 100.22 L555.10 101.47 L555.60 102.68 L556.10 103.86 L556.60 105.01 L557.10 106.12 L557.60 107.21 L558.10 108.26 L558.60 109.29 L559.10 110.29 L559.60 111.26 L560.10 112.20 L560.60 113.12 L561.10 114.01 L561.60 114.88 L562.10 115.72 L562.60 116.54 L563.10 117.33 L563.60 118.11 L564.10 118.86 L564.60 119.59 L565.10 120.31 L565.60 121.00 L566.10 121.67 L566.60 122.33 L567.10 122.96 L567.60 123.58 L568.10 124.18 L568.60 124.77 L569.10 125.34 L569.60 125.89 L570.10 126.43 L570.60 126.95 L571.10 127.46 L571.60 127.95 L572.10 128.43 L572.60 128.90 L573.10 129.35 L573.60 129.80 L574.10 130.23 L574.60 130.64 L575.10 131.05 L575.60 131.44 L576.10 131.83 L576.60 132.20 L577.10 132.56 L577.60 132.92 L578.10 133.26 L578.60 133.59 L579.10 133.92 L579.60 134.23 L580.10 134.54 L580.60 134.84 L581.10 135.13 L581.60 135.41 L582.10 135.68 L582.60 135.95 L583.10 136.21 L583.60 136.46 L584.10 136.70 L584.60 136.94 L585.10 137.17 L585.60 137.40 L586.10 137.62 L586.60 137.83 L587.10 138.04 L587.60 138.24 L588.10 138.43 L588.60 138.62 L589.10 138.81 L589.60 138.99 L590.10 139.16 L590.60 139.33 L591.10 139.50 L591.60 139.66 L592.10 139.82 L592.60 139.97 L593.10 140.12 L593.60 140.26 L594.10 140.40 L594.60 140.53 L595.10 140.67 L595.60 140.80 L596.10 140.92 L596.60 141.04 L597.10 141.16 L597.60 141.27 L598.10 141.39 L598.60 141.49 L599.10 141.60 L599.60 141.70 L600.10 141.80 L600.60 141.90 L601.10 141.99 L601.60 142.08 L602.10 142.17 L602.60 142.26 L603.10 142.34 L603.60 142.43 L604.10 142.51 L604.60 142.58 L605.10 142.66 L605.60 142.73 L606.10 142.80 L606.60 142.87 L607.10 142.94 L607.60 143.00 L608.10 143.07 L608.60 143.13 L609.10 143.19 L609.60 143.25 L610.10 143.31 L610.60 143.36 L611.10 143.41 L611.60 143.47 L612.10 143.52 L612.60 143.57 L613.10 143.61 L613.60 143.66 L614.10 143.71 L614.60 143.75 L615.10 143.79 L615.60 143.84 L616.10 143.88 L616.60 143.92 L617.10 143.95 L617.60 143.99 L618.10 144.03 L618.60 144.06 L619.10 144.10 L619.60 144.13 L620.10 144.16 L620.60 144.19 L621.10 144.22 L621.60 144.25 L622.10 144.28 L622.60 144.31 L623.10 144.34 L623.60 144.37 L624.10 144.39 L624.60 144.42 L625.10 144.44 L625.60 144.46 L626.10 144.49 L626.60 144.51 L627.10 144.53 L627.60 144.55 L628.10 144.57 L628.60 144.59 L629.10 144.61 L629.60 144.63 L630.10 144.65 L630.60 144.67 L631.10 144.69 L631.60 144.70 L632.10 144.72 L632.60 144.74 L633.10 144.75 L633.60 144.77 L634.10 144.78 L634.60 144.80 L635.10 144.81 L635.60 144.82 L636.10 144.84 L636.60 144.85 L637.10 144.86 L637.60 144.87 L638.10 144.89 L638.60 144.90 L639.10 144.91 L639.60 144.92 L640.10 144.93 L640.60 144.94 L641.10 144.95 L641.60 144.96 L642.10 144.97 L642.60 144.98 L643.10 144.99 L643.60 145.00 L644.10 145.00 L644.60 145.01 L645.10 145.02 L645.60 145.03 L646.10 145.04 L646.60 145.04 L647.10 145.05 L647.60 145.06 L648.10 145.06 L648.60 145.07 L649.10 145.08 L649.60 145.08 L650.10 145.09 L650.60 145.10 L651.10 145.10 L651.60 145.11 L652.10 145.11 L652.60 145.12 L653.10 145.12 L653.60 145.13 L654.10 145.13 L654.60 145.14 L655.10 145.14 L655.60 145.15 L656.10 145.15 L656.60 145.15 L657.10 145.16 L657.60 145.16 L658.10 145.17 L658.60 145.17 L659.10 145.17 L659.60 145.18 L660.10 145.18 L660.60 145.18 L661.10 145.19 L661.60 145.19 L662.10 145.19 L662.60 145.20 L663.10 145.20 L663.60 145.20 L664.10 145.20 L664.60 145.21 L665.10 145.21 L665.60 145.21 L666.10 145.21 L666.60 145.22 L667.10 145.22 L667.60 145.22 L668.10 145.22 L668.60 145.23 L669.10 145.23 L669.60 145.23 L670.10 145.23 L670.60 145.23 L671.10 145.24 L671.60 145.24 L672.10 145.24 L672.60 145.24 L673.10 145.24 L673.60 145.24 L674.10 145.25 L674.60 145.25 L675.10 145.25 L675.60 145.25" fill="none" stroke="#1a1a1a" stroke-width="1" stroke-linejoin="miter"/>
<text x="587" y="177.9" text-anchor="middle" class="il" font-size="13.8">Distance / Å</text>
<text transform="translate(474.4 114.2) rotate(-90)" class="il" font-size="13.7" textLength="88.6" lengthAdjust="spacingAndGlyphs">Volume fraction</text>
</svg>
</body></html>
